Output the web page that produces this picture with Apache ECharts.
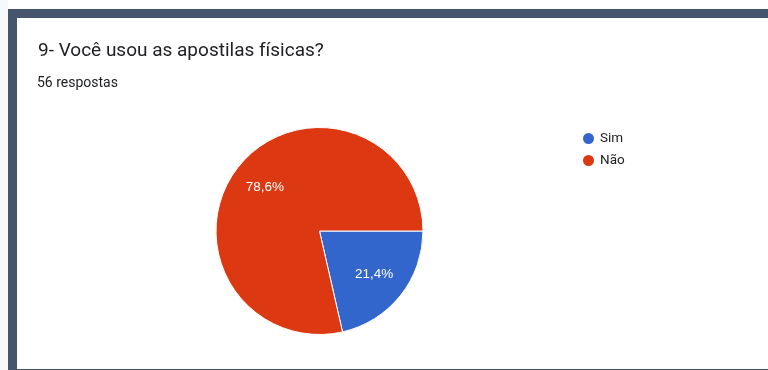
<!DOCTYPE html>
<html>
<head>
<meta charset="utf-8">
<script src="https://cdn.jsdelivr.net/npm/echarts@6/dist/echarts.min.js"></script>
<style>
  html, body { margin: 0; padding: 0; background: #fff; }
  #page { position: relative; width: 768px; height: 370px; overflow: hidden; background: #fff; }
  #strip { position: absolute; left: 0; top: 0; width: 8px; height: 370px; background: #f7f8fa; }
  #card {
    position: absolute; left: 8px; top: 9px; width: 751px; height: 351px;
    border-left: 9px solid #45556b; border-top: 9px solid #45556b; border-bottom: 1px solid #45556b;
    background: #fff;
  }
  #chart { width: 751px; height: 351px; }
</style>
</head>
<body>
<div id="page">
  <div id="strip"></div>
  <div id="card"><div id="chart"></div></div>
</div>
<script>
  const titleText = '9- Você usou as apostilas físicas?';
  const subText = '56 respostas';
  const categories = ['Sim', 'Não'];
  const counts = [12, 44];
  const colors = ['#3366cc', '#dc3912'];

  const pieData = categories.map((name, i) => ({
    name: name,
    value: counts[i],
    itemStyle: { color: colors[i] }
  }));

  const center = [302.5, 213];
  const formatPct = (p) => p.percent.toFixed(1).replace('.', ',') + '%';

  const chart = echarts.init(document.getElementById('chart'));
  chart.setOption({
    animation: false,
    backgroundColor: '#fff',
    title: [
      {
        text: titleText,
        left: 21,
        top: 23.5,
        padding: 0,
        textStyle: { fontFamily: 'Roboto', fontSize: 19, fontWeight: 'normal', color: '#202124' }
      },
      {
        text: subText,
        left: 20,
        top: 58,
        padding: 0,
        textStyle: { fontFamily: 'Roboto', fontSize: 14, fontWeight: 'normal', color: '#202124' }
      }
    ],
    legend: {
      orient: 'vertical',
      left: 564,
      top: 113,
      padding: 0,
      icon: 'circle',
      itemWidth: 13,
      itemHeight: 13,
      itemGap: 7,
      data: categories,
      textStyle: { fontFamily: 'Roboto', fontSize: 13.5, color: '#222' }
    },
    series: [
      {
        name: 'respostas',
        type: 'pie',
        center: center,
        radius: [0, 103.5],
        startAngle: 0,
        clockwise: true,
        percentPrecision: 1,
        itemStyle: { borderColor: '#fff', borderWidth: 1 },
        label: { show: false },
        labelLine: { show: false },
        emphasis: { disabled: true },
        data: pieData
      },
      {
        // invisible ring used only to place the percentage labels
        name: 'rotulos',
        type: 'pie',
        center: center,
        radius: [0, 134],
        startAngle: 0,
        clockwise: true,
        silent: true,
        percentPrecision: 1,
        itemStyle: { color: 'rgba(0,0,0,0)', borderWidth: 0 },
        label: {
          show: true,
          position: 'inside',
          formatter: formatPct,
          fontFamily: 'Liberation Sans',
          fontSize: 13.5,
          color: '#fff'
        },
        labelLine: { show: false },
        emphasis: { disabled: true },
        data: categories.map((name, i) => ({ name: name, value: counts[i] }))
      }
    ]
  });
</script>
</body>
</html>
